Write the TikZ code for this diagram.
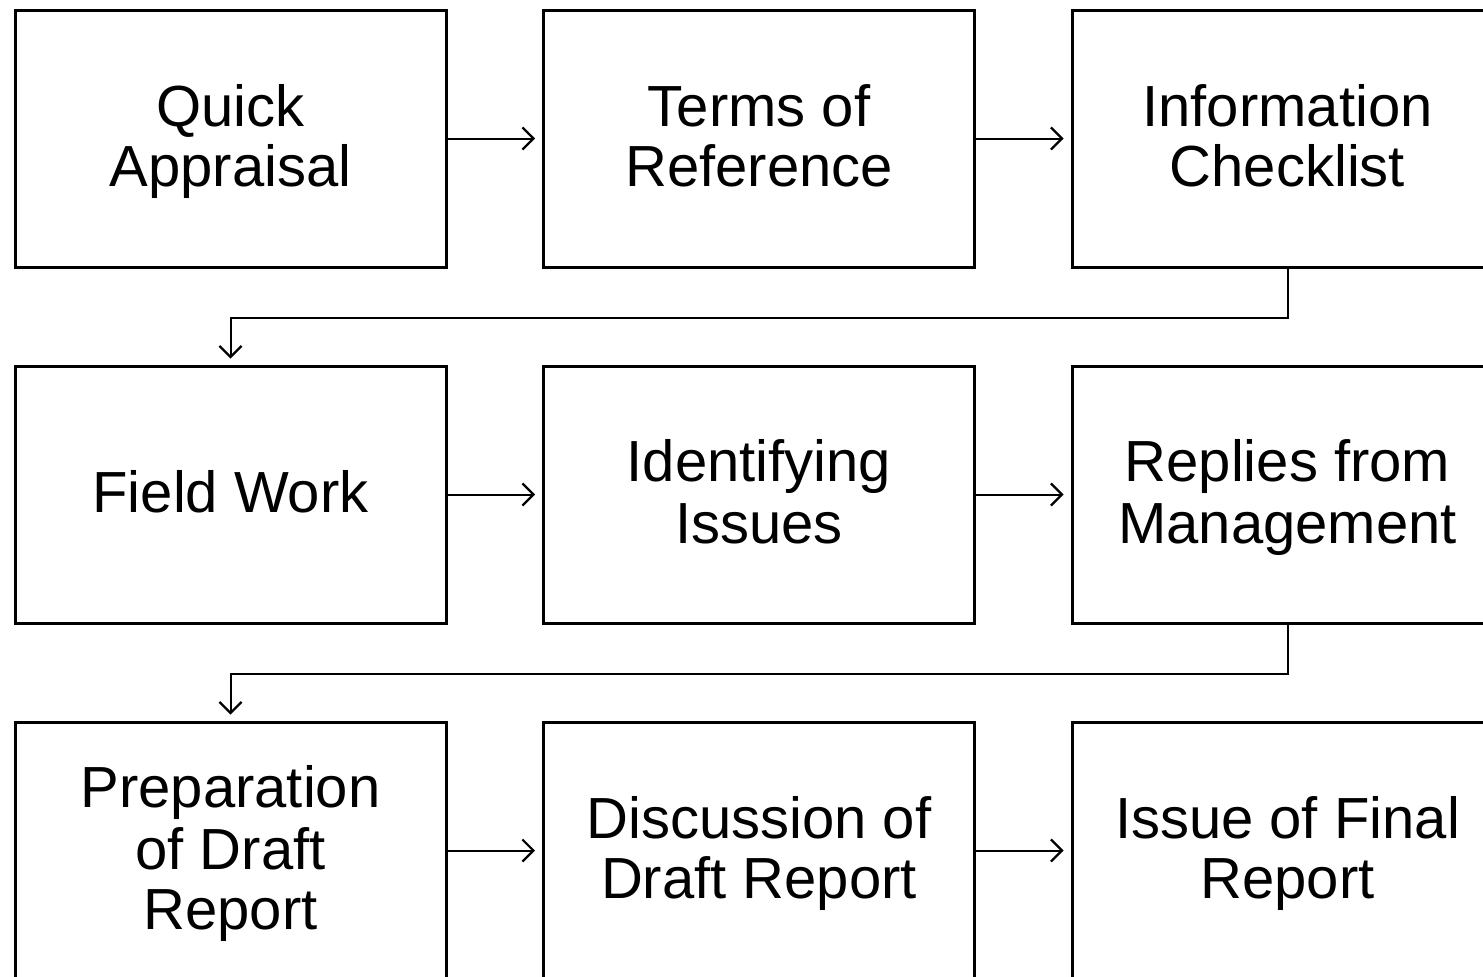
\documentclass[tikz,border=0pt]{standalone}
\usepackage{fontspec}
\setmainfont{Liberation Sans}
\usetikzlibrary{arrows.meta}
% one text line of uniform height and depth
\newcommand\bxline[1]{\rule[-12pt]{0pt}{60pt}#1}
\begin{document}
\begin{tikzpicture}[x=1pt,y=-1pt,
  stepbox/.style={draw, line width=3pt, minimum width=431pt, minimum height=257pt,
    inner sep=0pt, align=center, font=\fontsize{58}{60}\selectfont},
  flow/.style={line width=2pt, -{Straight Barb[length=11pt,width=22pt,line width=2.2pt]}, shorten >=7pt}]
\useasboundingbox (0,0) rectangle (1483,977);
\clip (0,0) rectangle (1483,977);
% row 1
\node[stepbox] (qa) at (230.5,138.5) {\bxline{Quick}\\\bxline{Appraisal}};
\node[stepbox] (tor) at (759,138.5) {\bxline{Terms of}\\\bxline{Reference}};
\node[stepbox] (ic) at (1287.5,138.5) {\bxline{Information}\\\bxline{Checklist}};
% row 2
\node[stepbox] (fw) at (230.5,494.5) {\bxline{Field Work}};
\node[stepbox] (ii) at (759,494.5) {\bxline{Identifying}\\\bxline{Issues}};
\node[stepbox] (rm) at (1287.5,494.5) {\bxline{Replies from}\\\bxline{Management}};
% row 3
\node[stepbox] (pd) at (230.5,850.5) {\bxline{Preparation}\\\bxline{of Draft}\\\bxline{Report}};
\node[stepbox] (dd) at (759,850.5) {\bxline{Discussion of}\\\bxline{Draft Report}};
\node[stepbox] (fr) at (1287.5,850.5) {\bxline{Issue of Final}\\\bxline{Report}};
% horizontal steps
\draw[flow] (qa.east) -- (tor.west);
\draw[flow] (tor.east) -- (ic.west);
\draw[flow] (fw.east) -- (ii.west);
\draw[flow] (ii.east) -- (rm.west);
\draw[flow] (pd.east) -- (dd.west);
\draw[flow] (dd.east) -- (fr.west);
% wrap-around links between rows
\draw[flow, shorten >=6pt] (ic.south) -- ++(0,49) -| (fw.north);
\draw[flow, shorten >=6pt] (rm.south) -- ++(0,49) -| (pd.north);
\end{tikzpicture}
\end{document}
